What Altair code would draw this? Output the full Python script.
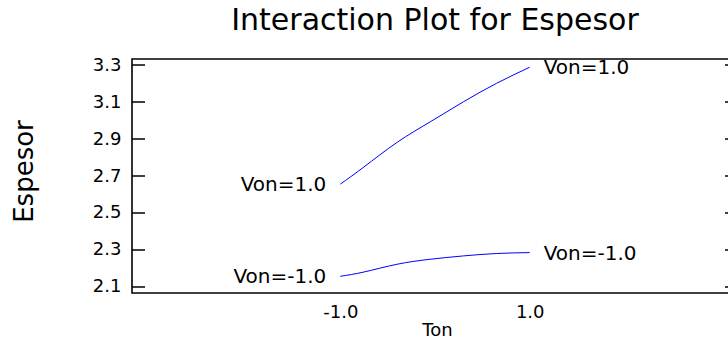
import altair as alt
import pandas as pd

# ---- data ----
ton = [-1.0, -0.75, -0.4, -0.05, 0.3, 0.65, 1.0]
esp_von_pos = [2.656, 2.749, 2.882, 2.993, 3.101, 3.201, 3.288]
esp_von_neg = [2.158, 2.181, 2.223, 2.250, 2.268, 2.281, 2.286]
von_labels = ["Von=1.0", "Von=-1.0"]
y_ticks = [2.1, 2.3, 2.5, 2.7, 2.9, 3.1, 3.3]
x_ticks = [-1.0, 1.0]

FONT = "DejaVu Sans"

lines_df = pd.DataFrame({
    "Ton": ton + ton,
    "Espesor": esp_von_pos + esp_von_neg,
    "Von": [von_labels[0]] * len(ton) + [von_labels[1]] * len(ton),
})
left_df = pd.DataFrame({
    "Ton": [ton[0], ton[0]],
    "Espesor": [esp_von_pos[0], esp_von_neg[0]],
    "label": von_labels,
})
right_df = pd.DataFrame({
    "Ton": [ton[-1], ton[-1]],
    "Espesor": [esp_von_pos[-1], esp_von_neg[-1]],
    "label": von_labels,
})
ticks_df = pd.DataFrame({"Espesor": y_ticks})

xs = alt.Scale(domain=[-3.2, 3.2], nice=False, zero=False)
ys = alt.Scale(domain=[2.0675, 3.3325], nice=False, zero=False)

x_axis = alt.Axis(
    values=x_ticks, format=".1f",
    labelExpr="replace(datum.label, '\u2212', '-')",
    labelPadding=10,
    title="Ton", titleFontSize=18,
    titleX=305, titleY=42, titleBaseline="alphabetic", titleAlign="center",
)
y_axis = alt.Axis(
    values=y_ticks, format=".1f",
    labelPadding=11,
    title="Espesor", titleFontSize=26,
    titleAngle=270, titleX=-100, titleY=112,
    titleBaseline="alphabetic", titleAlign="center",
)

lines = alt.Chart(lines_df).mark_line(
    color="#0000FF", strokeWidth=1, interpolate="natural"
).encode(
    x=alt.X("Ton:Q", scale=xs, axis=x_axis),
    y=alt.Y("Espesor:Q", scale=ys, axis=y_axis),
    detail="Von:N",
)

left_text = alt.Chart(left_df).mark_text(
    align="right", baseline="middle", dx=-14, dy=1,
    font=FONT, fontSize=20, color="black",
).encode(
    x=alt.X("Ton:Q", scale=xs, axis=x_axis),
    y=alt.Y("Espesor:Q", scale=ys, axis=y_axis),
    text="label:N",
)
right_text = alt.Chart(right_df).mark_text(
    align="left", baseline="middle", dx=14, dy=1,
    font=FONT, fontSize=20, color="black",
).encode(
    x=alt.X("Ton:Q", scale=xs, axis=x_axis),
    y=alt.Y("Espesor:Q", scale=ys, axis=y_axis),
    text="label:N",
)

left_ticks = alt.Chart(ticks_df).mark_rule(color="black", strokeWidth=1.5).encode(
    y=alt.Y("Espesor:Q", scale=ys, axis=y_axis),
    x=alt.value(0), x2=alt.value(13),
)
right_ticks = alt.Chart(ticks_df).mark_rule(color="black", strokeWidth=1.5).encode(
    y=alt.Y("Espesor:Q", scale=ys, axis=y_axis),
    x=alt.value(593), x2=alt.value(606),
)

chart = alt.layer(lines, left_text, right_text, left_ticks, right_ticks).properties(
    width=606, height=234,
    title=alt.Title(
        "Interaction Plot for Espesor", font=FONT, fontSize=30,
        fontWeight="normal", color="black", anchor="middle",
        frame="group", offset=20,
    ),
    autosize=alt.AutoSizeParams(type="none"),
    padding={"left": 132, "top": 59, "right": -10, "bottom": 47},
).configure(
    background="white"
).configure_axis(
    ticks=False, domain=False, grid=False, labelOverlap=False,
    labelFont=FONT, labelFontSize=18, labelColor="black",
    titleFont=FONT, titleFontWeight="normal", titleColor="black",
).configure_view(
    stroke="black", strokeWidth=1.6
)

chart.save("out.html", embed_options={"renderer": "svg", "actions": False})
